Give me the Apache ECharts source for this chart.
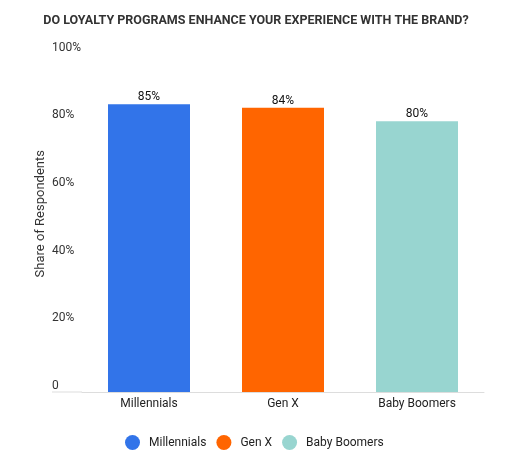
<!DOCTYPE html>
<html>
<head>
<meta charset="utf-8">
<script src="https://cdn.jsdelivr.net/npm/echarts@6/dist/echarts.min.js"></script>
<style>
  html, body { margin: 0; padding: 0; background: #fff; }
  #chart { width: 512px; height: 459px; }
</style>
</head>
<body>
<div id="chart"></div>
<script>
var categories = ['Millennials', 'Gen X', 'Baby Boomers'];
var shares = [85, 84, 80];
var colors = ['#3274E9', '#FF6500', '#98D5D0'];
var yTicks = [0, 20, 40, 60, 80, 100];

var chart = echarts.init(document.getElementById('chart'));

var series = categories.map(function (name, i) {
    var data = categories.map(function (c, j) {
        return j === i ? shares[i] : null;
    });
    return {
        name: name,
        type: 'bar',
        data: data,
        barWidth: 82,
        barGap: '-100%',
        itemStyle: { color: colors[i] },
        label: {
            show: true,
            position: 'top',
            distance: 1,
            color: '#111',
            fontSize: 12,
            formatter: '{c}%'
        }
    };
});

var option = {
    textStyle: { fontFamily: 'Roboto' },
    title: {
        text: 'DO LOYALTY PROGRAMS ENHANCE YOUR EXPERIENCE WITH THE BRAND?',
        left: 'center',
        top: 9,
        textStyle: { fontSize: 12.5, fontWeight: 'bold', color: '#333', fontFamily: 'Roboto' }
    },
    legend: {
        bottom: 4,
        left: 120,
        icon: 'circle',
        itemWidth: 15,
        itemHeight: 15,
        itemGap: 10,
        textStyle: { fontSize: 12, color: '#222', padding: [0, 0, 0, 4] },
        data: categories
    },
    grid: { left: 82, right: 28, top: 53.5, bottom: 67 },
    xAxis: {
        type: 'category',
        data: categories,
        axisTick: { show: false },
        axisLine: { lineStyle: { color: '#ddd' } },
        axisLabel: { color: '#222', fontSize: 12, margin: 6 }
    },
    yAxis: {
        type: 'value',
        min: 0,
        max: 100,
        interval: 20,
        name: 'Share of Respondents',
        nameLocation: 'middle',
        nameRotate: 90,
        nameGap: 35,
        nameMoveOverlap: false,
        nameTextStyle: { color: '#333', fontSize: 13, padding: [0, 0, 0, 18] },
        splitLine: { show: false },
        axisLine: { show: false },
        axisTick: { show: false },
        axisLabel: {
            align: 'left',
            verticalAlign: 'bottom',
            margin: 30,
            color: '#333',
            fontSize: 12,
            formatter: function (v) {
                return yTicks.indexOf(v) > 0 ? v + '%' : String(v);
            }
        }
    },
    graphic: [{
        type: 'line',
        shape: { x1: 52, y1: 392, x2: 82, y2: 392 },
        style: { stroke: '#ddd', lineWidth: 1 }
    }],
    series: series
};

chart.setOption(option);
</script>
</body>
</html>
